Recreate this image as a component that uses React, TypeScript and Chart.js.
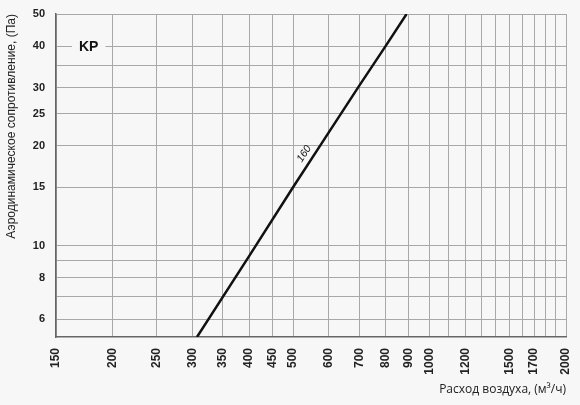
import React, { useEffect, useRef } from "react";
import { Chart, registerables } from "chart.js";

Chart.register(...registerables);

// Airflow (m³/h) vs. pressure drop (Pa), curve "160"
const flowValues = [307, 400, 500, 600, 700, 800, 890];
const pressureValues = [5.3, 9.3, 15, 22, 30.4, 40, 50];

const xGridValues = [150, 200, 250, 300, 350, 400, 450, 500, 600, 700, 800, 900, 1000, 1100, 1200, 1300, 1400, 1500, 1600, 1700, 1800, 1900, 2000];
const xTickLabels = [150, 200, 250, 300, 350, 400, 450, 500, 600, 700, 800, 900, 1000, 1200, 1500, 1700, 2000];
const yGridValues = [6, 7, 8, 9, 10, 15, 20, 25, 30, 35, 40, 50];
const yTickLabels = [6, 8, 10, 15, 20, 25, 30, 40, 50];

const curveName = "160";
const chartTag = "KP";
const xTitle = "Расход воздуха, (м³/ч)";
const yTitle = "Аэродинамическое сопротивление, (Па)";

const BG = "#f7f7f7";

const labelsPlugin = {
  id: "labelsPlugin",
  afterDatasetsDraw(chart: any) {
    const { ctx, scales, chartArea } = chart;
    const ys = scales.y;
    // KP tag on the 40 Pa grid line
    const yTag = ys.getPixelForValue(40);
    ctx.save();
    ctx.font = "bold 14px 'Liberation Sans', Arial, sans-serif";
    const tw = ctx.measureText(chartTag).width;
    const tx = chartArea.left + 23;
    ctx.fillStyle = BG;
    ctx.fillRect(tx - 7, yTag - 3, tw + 14, 6);
    ctx.fillStyle = "#111";
    ctx.textBaseline = "middle";
    ctx.textAlign = "left";
    ctx.fillText(chartTag, tx, yTag + 1);
    ctx.restore();

    // curve label along the line
    const pts = chart.getDatasetMeta(0).data;
    const targetY = ys.getPixelForValue(18.3);
    let px = pts[0].x, py = pts[0].y, ang = 0;
    for (let i = 0; i < pts.length - 1; i++) {
      const a = pts[i], b = pts[i + 1];
      if ((a.y - targetY) * (b.y - targetY) <= 0) {
        const t = (targetY - a.y) / (b.y - a.y);
        px = a.x + t * (b.x - a.x);
        py = targetY;
        ang = Math.atan2(b.y - a.y, b.x - a.x);
        break;
      }
    }
    const off = 9;
    const nx = Math.sin(ang) * off;
    const ny = -Math.cos(ang) * off;
    ctx.save();
    ctx.translate(px + nx, py + ny);
    ctx.rotate(ang);
    ctx.font = "italic 10.5px 'Liberation Sans', Arial, sans-serif";
    ctx.fillStyle = "#111";
    ctx.textAlign = "center";
    ctx.textBaseline = "middle";
    ctx.fillText(curveName, 0, 0);
    ctx.restore();
  },
};

const bgPlugin = {
  id: "bgPlugin",
  beforeDraw(chart: any) {
    const { ctx, width, height } = chart;
    ctx.save();
    ctx.fillStyle = BG;
    ctx.fillRect(0, 0, width, height);
    ctx.restore();
  },
};

export default function App() {
  const ref = useRef<HTMLCanvasElement | null>(null);
  useEffect(() => {
    document.body.style.margin = "0";
    document.body.style.background = BG;
    const canvas = ref.current;
    if (!canvas) return;
    const chart = new Chart(canvas, {
      type: "line",
      data: {
        datasets: [
          {
            label: curveName,
            data: flowValues.map((x, i) => ({ x, y: pressureValues[i] })),
            borderColor: "#111",
            borderWidth: 2.5,
            pointRadius: 0,
            tension: 0,
            fill: false,
          },
        ],
      },
      options: {
        animation: false,
        responsive: false,
        devicePixelRatio: 1,
        layout: { padding: { top: 14, right: 14, left: 0, bottom: 0 } },
        plugins: { legend: { display: false }, tooltip: { enabled: false } },
        scales: {
          x: {
            type: "logarithmic",
            min: 150,
            max: 2000,
            afterBuildTicks: (s: any) => {
              s.ticks = xGridValues.map((v) => ({ value: v }));
            },
            afterFit: (s: any) => {
              s.height = 68;
              s.paddingLeft = 0;
              s.paddingRight = 0;
            },
            grid: { color: "#a8a8a8", lineWidth: 1, drawTicks: false, tickLength: 0 },
            border: { color: "#666", width: 1.5 },
            ticks: {
              autoSkip: false,
              minRotation: 90,
              maxRotation: 90,
              padding: 11,
              color: "#222",
              font: { family: "'Liberation Sans', Arial, sans-serif", size: 12, weight: "bold" },
              callback: (v: any) => (xTickLabels.includes(Number(v)) ? String(v) : ""),
            },
            title: {
              display: true,
              text: xTitle,
              align: "end",
              color: "#222",
              font: { family: "'Open Sans', sans-serif", size: 12 },
              padding: { top: 0, bottom: 8 },
            },
          },
          y: {
            type: "logarithmic",
            min: 5.3,
            max: 50,
            afterBuildTicks: (s: any) => {
              s.ticks = yGridValues.map((v) => ({ value: v }));
            },
            afterFit: (s: any) => {
              s.width = 56;
              s.paddingTop = 0;
              s.paddingBottom = 0;
            },
            grid: { color: "#a8a8a8", lineWidth: 1, drawTicks: false, tickLength: 0 },
            border: { color: "#666", width: 1.5 },
            ticks: {
              autoSkip: false,
              padding: 11,
              color: "#222",
              font: { family: "'Liberation Sans', Arial, sans-serif", size: 11, weight: "bold" },
              callback: (v: any) => (yTickLabels.includes(Number(v)) ? String(v) : ""),
            },
            title: {
              display: true,
              text: yTitle,
              align: "end",
              color: "#222",
              font: { family: "'Liberation Sans', Arial, sans-serif", size: 12 },
              padding: { top: 4, bottom: 0 },
            },
          },
        },
      } as any,
      plugins: [bgPlugin, labelsPlugin],
    });
    return () => chart.destroy();
  }, []);
  return (
    <div style={{ position: "absolute", left: 0, top: 0, width: 580, height: 405, background: BG }}>
      <canvas ref={ref} width={580} height={405} />
    </div>
  );
}
